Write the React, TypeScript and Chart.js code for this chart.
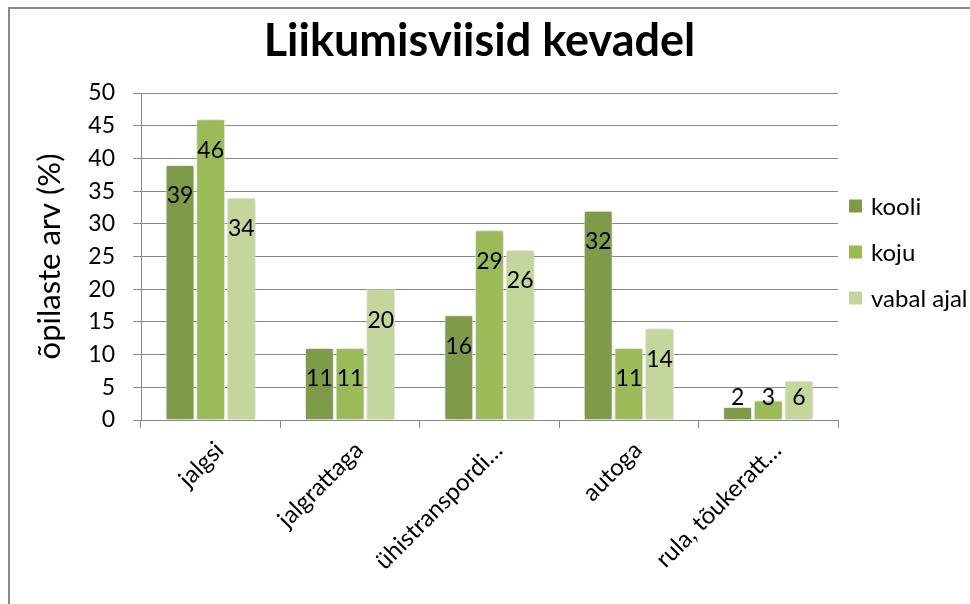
import React, { useEffect, useRef } from "react";
import { Chart, registerables } from "chart.js";

Chart.register(...registerables);

const categories = ["jalgsi", "jalgrattaga", "ühistranspordi…", "autoga", "rula, tõukeratt…"];
const seriesNames = ["kooli", "koju", "vabal ajal"];
const kooli = [39, 11, 16, 32, 2];
const koju = [46, 11, 29, 11, 3];
const vabalAjal = [34, 20, 26, 14, 6];
const seriesColors = ["#7f9a48", "#9bbb59", "#c3d69b"];
const yMin = 0;
const yMax = 50;
const yStep = 5;
const chartTitle = "Liikumisviisid kevadel";
const yTitle = "õpilaste arv (%)";

const FONT = "Lato, 'Noto Sans', sans-serif";
const GRID = "#878787";

const shadowAndLabels = {
  id: "shadowAndLabels",
  beforeDatasetsDraw(chart: any) {
    const ctx = chart.ctx;
    ctx.save();
    ctx.shadowColor = "rgba(0,0,0,0.25)";
    ctx.shadowBlur = 7;
    ctx.shadowOffsetX = 0;
    ctx.shadowOffsetY = 0;
  },
  afterDatasetsDraw(chart: any) {
    const ctx = chart.ctx;
    ctx.restore();
    ctx.save();
    ctx.font = `23px ${FONT}`;
    ctx.fillStyle = "#000";
    ctx.textAlign = "center";
    ctx.textBaseline = "middle";
    chart.data.datasets.forEach((ds: any, di: number) => {
      const meta = chart.getDatasetMeta(di);
      meta.data.forEach((el: any, i: number) => {
        const y = Math.min(el.y + 31, el.base - 22);
        ctx.fillText(String(ds.data[i]), el.x, y);
      });
    });
    ctx.restore();
  },
};

const sideLegend = {
  id: "sideLegend",
  afterDraw(chart: any) {
    const ctx = chart.ctx;
    const area = chart.chartArea;
    const x0 = area.right + 11;
    const cy = (area.top + area.bottom) / 2 - 4.5;
    ctx.save();
    ctx.font = `24px ${FONT}`;
    ctx.textAlign = "left";
    ctx.textBaseline = "middle";
    chart.data.datasets.forEach((ds: any, i: number) => {
      const y = cy + (i - 1) * 46;
      ctx.fillStyle = ds.backgroundColor;
      ctx.fillRect(x0, y - 6.5, 13, 13);
      ctx.fillStyle = "#000";
      ctx.fillText(ds.label, x0 + 22, y + 1);
    });
    ctx.restore();
  },
};

export default function App() {
  const ref = useRef<HTMLCanvasElement | null>(null);

  useEffect(() => {
    if (!ref.current) return;
    const seriesData = [kooli, koju, vabalAjal];
    const chart = new Chart(ref.current, {
      type: "bar",
      data: {
        labels: categories,
        datasets: seriesNames.map((name, i) => ({
          label: name,
          data: seriesData[i],
          backgroundColor: seriesColors[i],
          borderColor: "rgba(255,255,255,0.85)",
          borderWidth: 1,
          categoryPercentage: 0.66,
          barPercentage: 0.94,
          yAxisID: "y",
        })),
      },
      options: {
        animation: false,
        responsive: false,
        maintainAspectRatio: false,
        layout: { padding: 0 },
        plugins: {
          legend: { display: false },
          tooltip: { enabled: false },
          title: {
            display: true,
            text: chartTitle,
            color: "#000",
            font: { family: FONT, size: 45, weight: "bold" },
            padding: { top: 5.6, bottom: 24.4 },
          },
        },
        scales: {
          x: {
            type: "category",
            offset: true,
            grid: {
              display: true,
              drawOnChartArea: false,
              drawTicks: true,
              tickLength: 8,
              color: GRID,
              offset: true,
            },
            border: { display: true, color: GRID, width: 1 },
            ticks: {
              minRotation: 45,
              maxRotation: 45,
              autoSkip: false,
              color: "#000",
              padding: 8,
              labelOffset: 9,
              font: { family: FONT, size: 24 },
            },
            afterFit: (s: any) => {
              s.height = 184;
            },
          },
          y: {
            min: yMin,
            max: yMax,
            ticks: {
              stepSize: yStep,
              color: "#000",
              padding: 18,
              font: { family: FONT, size: 23 },
            },
            grid: { color: GRID, tickLength: 8, lineWidth: 1 },
            border: { display: true, color: GRID, width: 1 },
            title: {
              display: true,
              text: yTitle,
              color: "#000",
              font: { family: FONT, size: 31 },
              padding: { top: 42, bottom: 0 },
            },
            afterFit: (s: any) => {
              s.width = 152;
            },
          },
          legendSpace: {
            type: "linear",
            position: "right",
            display: true,
            grid: { display: false, drawOnChartArea: false, drawTicks: false },
            border: { display: false },
            ticks: { display: false },
            afterFit: (s: any) => {
              s.width = 132;
            },
          },
        },
      },
      plugins: [shadowAndLabels, sideLegend],
    });
    return () => chart.destroy();
  }, []);

  return (
    <>
      <div
        style={{
          position: "fixed",
          left: 8,
          top: 7,
          width: 1000,
          height: 640,
          borderLeft: "2px solid #8a8a8a",
          borderTop: "2px solid #8a8a8a",
          boxSizing: "border-box",
          pointerEvents: "none",
        }}
      />
      <div style={{ position: "fixed", left: -11, top: 9, width: 981, height: 595 }}>
        <canvas ref={ref} width={981} height={595} style={{ display: "block" }} />
      </div>
    </>
  );
}
